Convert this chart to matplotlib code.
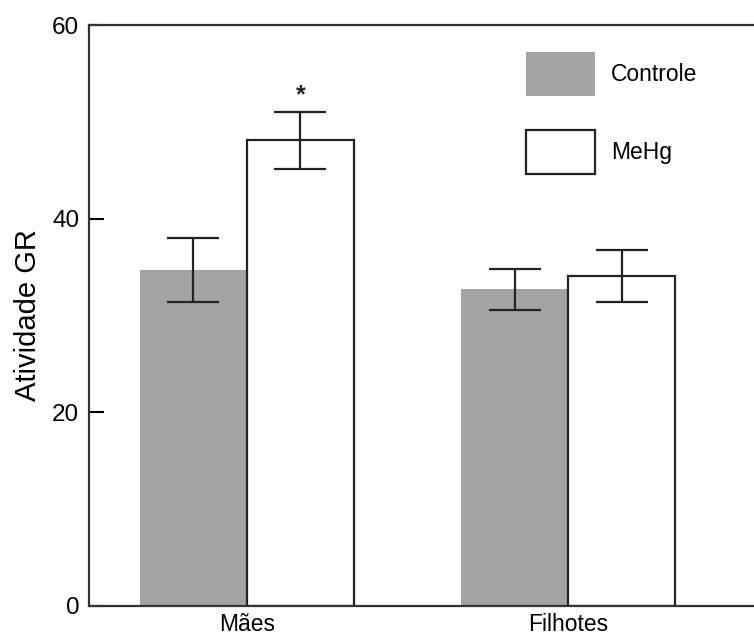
import numpy as np
import matplotlib
matplotlib.use("Agg")
import matplotlib.pyplot as plt

plt.rcParams['font.family'] = ['Liberation Sans', 'DejaVu Sans']

grupos = ['Mães', 'Filhotes']
controle = [34.7, 32.7]
controle_err = [3.3, 2.1]
mehg = [48.1, 34.1]
mehg_err = [2.95, 2.7]
series = ['Controle', 'MeHg']

fig = plt.figure(figsize=(7.54, 6.37), dpi=100)
ax = fig.add_axes([89 / 754, 31 / 637, 665 / 754, 581 / 637])

x = np.arange(len(grupos))
w = 1 / 3
cinza = '#a3a3a3'

b1 = ax.bar(x - w / 2, controle, w, color=cinza, linewidth=0, label=series[0])
b2 = ax.bar(x + w / 2, mehg, w, color='white', edgecolor='#222222',
            linewidth=1.6, label=series[1])

ax.errorbar(x - w / 2, controle, yerr=controle_err, fmt='none', ecolor='#222222',
            elinewidth=1.6, capsize=19, capthick=1.6)
ax.errorbar(x + w / 2, mehg, yerr=mehg_err, fmt='none', ecolor='#222222',
            elinewidth=1.6, capsize=19, capthick=1.6)

# asterisco de significancia sobre MeHg (Mães)
ax.text(x[0] + w / 2, mehg[0] + mehg_err[0] + 0.4, '*', ha='center', va='bottom',
        fontsize=18, fontweight='bold', color='#222222')

ax.set_xlim(-0.492, 1.579)
ax.set_ylim(0, 60)
ax.set_yticks([0, 20, 40, 60])
ax.set_xticks(x)
ax.set_xticklabels(grupos, fontsize=16.5)
ax.tick_params(axis='x', length=0, pad=5)
ax.tick_params(axis='y', direction='in', length=11, width=1.5, labelsize=17.5, pad=7)
ax.set_ylabel('Atividade GR', fontsize=21, labelpad=7)

for s in ['left', 'bottom', 'top']:
    ax.spines[s].set_linewidth(1.6)
    ax.spines[s].set_color('#333333')
ax.spines['right'].set_visible(False)

ax.legend(handles=[b1, b2], loc='upper left', bbox_to_anchor=(0.657, 0.9535),
          frameon=False, fontsize=16.5, handlelength=3.0, handleheight=2.55,
          labelspacing=1.5, handletextpad=0.7, borderpad=0, borderaxespad=0)

fig.savefig('out.png', dpi=100)
